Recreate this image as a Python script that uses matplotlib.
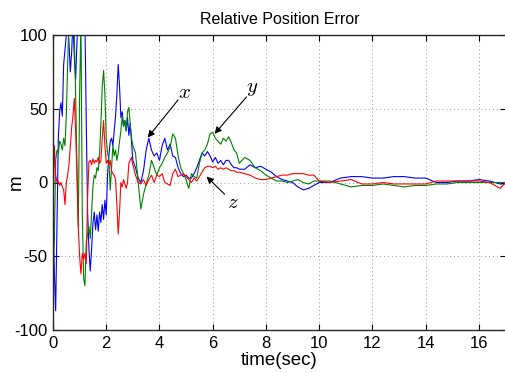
import numpy as np
import matplotlib
matplotlib.use("Agg")
import matplotlib.pyplot as plt

plt.rcParams['font.family'] = ['Liberation Sans', 'DejaVu Sans']
plt.rcParams['mathtext.fontset'] = 'cm'
plt.rcParams['axes.unicode_minus'] = False

# sampling grid (seconds)
t_a = np.round(np.arange(0.0, 3.0001, 0.05), 2)
t_b = np.round(np.arange(3.1, 7.0001, 0.1), 2)
t_c = np.round(np.arange(7.2, 10.0001, 0.2), 2)
t_d = np.array([10.4, 10.8, 11.2, 11.6, 12.0, 12.4, 12.8, 13.2, 13.6, 14.0,
                14.4, 14.8, 15.2, 15.6, 16.0, 16.4, 16.8, 17.0])
time = np.concatenate([t_a, t_b, t_c, t_d])

err_x = [
    # 0.00 - 3.00 (0.05)
    -20, -60, -87, -30, 30, 48, 54, 45, 80, 90,
    100, 110, 95, 75, 88, 110, 85, 70, 95, 115,
    130, 120, 125, 115, 110, 40, -20, -45, -60, -45,
    -28, -20, -32, -22, -33, -20, -27, -15, -25, -12,
    -22, 5, 18, 28, 30, 25, 35, 45, 60, 80,
    65, 44, 48, 38, 42, 35, 44, 32, 40, 28,
    15,
    # 3.1 - 7.0 (0.1)
    10, 3, 0, 8, 22, 30, 22, 18, 20, 15,
    25, 30, 22, 26, 18, 17, 10, 6, 4, 5,
    3, 3, 6, 10, 15, 20, 18, 21, 18, 14,
    17, 13, 15, 12, 15, 15, 12, 10, 10, 9,
    # 7.2 - 10.0 (0.2)
    9, 12, 10, 11, 9, 7, 4, 2, 1, 0, -3, -5, -4, -2, 0,
    # 10.4 - 17.0
    0, 3, 4, 4, 3, 3, 4, 4, 3, 3, 0, 0, 1, 1, 2, 1, -1, -1,
]

err_y = [
    -50, -40, 15, 22, 20, 28, 26, 22, 30, 25,
    45, 80, 110, 115, 105, 110, 100, 60, 10, -30,
    60, 110, -20, -65, -70, -40, -35, -30, -38, -20,
    -3, 5, 3, 10, 8, 20, 40, 65, 76, 60,
    30, 20, 15, -5, 10, 25, 18, 22, 15, 20,
    28, 35, 45, 38, 42, 35, 48, 51, 40, 30,
    25,
    20, 0, -18, -8, -1, 5, 15, 10, 5, 10,
    13, 17, 20, 24, 33, 30, 18, 10, 6, 2,
    -4, 6, 4, 3, 13, 20, 22, 26, 33, 34,
    30, 28, 26, 30, 28, 31, 27, 22, 20, 13,
    17, 15, 10, 8, 5, 3, 1, 1, 0, 1, 2, 0, -1, 1, 1,
    1, -1, -3, -2, -2, -1, -2, -3, -2, -2, -1, -1, 0, 0, 0, 0, 0, 0,
]

err_z = [
    -20, 25, 5, 0, 1, -2, 0, -3, -5, -15,
    0, 5, 12, 25, 37, 45, 57, 35, 5, -30,
    -50, -62, -48, -52, -48, -55, -10, 14, 15, 12,
    16, 13, 15, 14, 17, 13, 15, 30, 42, 25,
    13, 15, 12, 15, 8, 6, 5, 2, -15, -35,
    -20, 0, -3, 2, -1, -4, 0, 13, 15, 17,
    12,
    5, 0, -1, 2, -2, 2, 5, 0, 5, 4,
    6, 0, -1, -2, 6, 9, 4, 5, 6, 4,
    2, 0, 3, 1, 4, 7, 10, 11, 11, 10,
    11, 9, 10, 9, 10, 9, 8, 8, 7, 7,
    6, 5, 3, 2, 2, 3, 4, 5, 5, 6, 6, 6, 5, 5, 1,
    0, 1, 2, -1, -1, 0, -1, -1, -1, -1, 1, 1, 1, 1, 1, 0, -4, 0,
]

xticks = [0, 2, 4, 6, 8, 10, 12, 14, 16]
yticks = [-100, -50, 0, 50, 100]

fig = plt.figure(figsize=(5.06, 3.73), dpi=100)
ax = fig.add_axes([53/506, 1-330/373, 452.5/506, 295/373])

ax.plot(time, err_x, color='#0000ff', lw=0.8)
ax.plot(time, err_y, color='#008000', lw=0.8)
ax.plot(time, err_z, color='#ff0000', lw=0.8)

ax.set_xlim(0, 17)
ax.set_ylim(-100, 100)
ax.set_xticks(xticks)
ax.set_yticks(yticks)
ax.tick_params(direction='in', length=4, top=True, right=True, labelsize=12, pad=4)
ax.grid(True, linestyle=(0, (1, 3)), color='0.6', lw=0.7)
for s in ax.spines.values():
    s.set_linewidth(1.0)
    s.set_color('0.15')

ax.set_title('Relative Position Error', fontsize=11.5, pad=8)
ax.set_xlabel('time(sec)', fontsize=13.5, labelpad=1)
ax.set_ylabel('m', fontsize=13.5)
ax.yaxis.set_label_coords(-0.062, 0.5)

arrow = dict(arrowstyle='-|>', color='k', lw=0.8, mutation_scale=10, shrinkA=0, shrinkB=0)
ax.text(4.95, 61, '$x$', fontsize=15, ha='center', va='center')
ax.annotate('', xy=(3.56, 30.5), xytext=(4.7, 56), arrowprops=arrow)
ax.text(7.5, 64, '$y$', fontsize=15, ha='center', va='center')
ax.annotate('', xy=(6.07, 33), xytext=(7.27, 58), arrowprops=arrow)
ax.text(6.75, -13.5, '$z$', fontsize=15, ha='center', va='center')
ax.annotate('', xy=(5.77, 4), xytext=(6.45, -8), arrowprops=arrow)

fig.savefig('out.png', dpi=100)
